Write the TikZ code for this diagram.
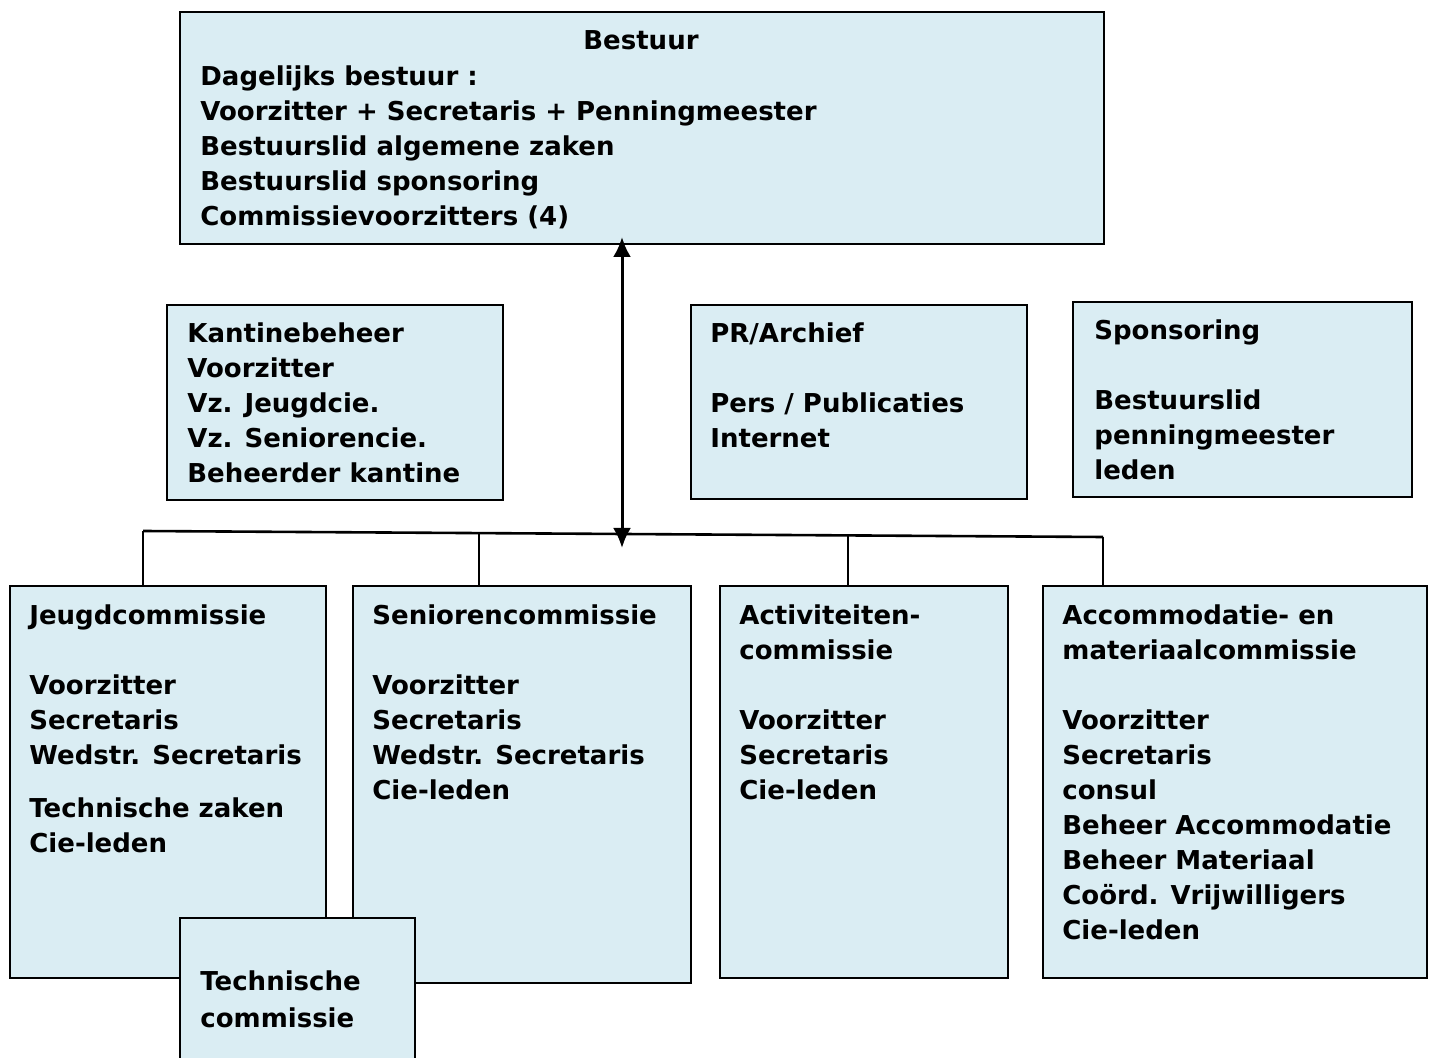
\documentclass[tikz,border=0pt]{standalone}
\usepackage{fontspec}
\setmainfont{DejaVu Sans}
\usepackage{tikz}
\usetikzlibrary{arrows.meta}
\definecolor{boxblue}{RGB}{218,237,243}

\begin{document}
\begin{tikzpicture}[
  x=0.5pt, y=-0.5pt,
  cbox/.style={
    rectangle, draw, fill=boxblue,
    line width=1.1pt, inner sep=0pt, anchor=north west
  },
  txt/.style={
    anchor=north west, align=left, inner sep=0pt,
    font=\fontsize{13}{17.5}\selectfont\bfseries
  }
]
  \useasboundingbox (0,0) rectangle (1431,1058);
  % boxes
  \node[cbox, minimum width=462pt, minimum height=116pt] (bestuur) at (179,11){};
  \node[cbox, minimum width=168pt, minimum height=97.5pt] (kantine) at (166,304){};
  \node[cbox, minimum width=168pt, minimum height=97pt] (pr) at (690,304){};
  \node[cbox, minimum width=169.5pt, minimum height=97.5pt] (spons) at (1072,301){};
  \node[cbox, minimum width=158pt, minimum height=196pt] (jeugd) at (9,585){};
  \node[cbox, minimum width=169pt, minimum height=198.5pt] (senioren) at (352,585){};
  \node[cbox, minimum width=144pt, minimum height=196pt] (activ) at (719,585){};
  \node[cbox, minimum width=192pt, minimum height=196pt] (accom) at (1042,585){};
  % texts (top of strut = baseline - 24.5)
  \node[txt, anchor=base] (bestuur-t) at (641,50){Bestuur};
  \node[txt] (bestuur-l) at (200,60.5){\strut Dagelijks bestuur :\\
    Voorzitter + Secretaris + Penningmeester\\
    Bestuurslid algemene zaken\\
    Bestuurslid sponsoring\\
    Commissievoorzitters (4)};
  \node[txt] (kantine-l) at (187,317.5){\strut Kantinebeheer\\Voorzitter\\
    Vz. Jeugdcie.\\Vz. Seniorencie.\\Beheerder kantine};
  \node[txt] (pr-l) at (710,317.5){\strut PR/Archief\\[17.5pt]
    Pers / Publicaties\\Internet};
  \node[txt] (spons-l) at (1094,314.5){\strut Sponsoring\\[17.5pt]
    Bestuurslid\\penningmeester\\leden};
  \node[txt] (jeugd-l) at (29,599.5){\strut Jeugdcommissie\\[17.5pt]
    Voorzitter\\Secretaris\\Wedstr. Secretaris\\[9pt]
    Technische zaken\\Cie-leden};
  \node[txt] (senioren-l) at (372,599.5){\strut Seniorencommissie\\[17.5pt]
    Voorzitter\\Secretaris\\Wedstr. Secretaris\\Cie-leden};
  \node[txt] (activ-l) at (739,599.5){\strut Activiteiten-\\commissie\\[17.5pt]
    Voorzitter\\Secretaris\\Cie-leden};
  \node[txt] (accom-l) at (1062,599.5){\strut Accommodatie- en\\materiaalcommissie\\[17.5pt]
    Voorzitter\\Secretaris\\consul\\Beheer Accommodatie\\
    Beheer Materiaal\\Coörd. Vrijwilligers\\Cie-leden};
  \node[cbox, minimum width=117.5pt, minimum height=76pt] (techn) at (179,917){};
  \node[txt] (techn-l) at (200,965.5){\strut Technische\\[1pt]commissie};
  % connectors
  \coordinate (bar-w) at (143,531);
  \coordinate (bar-e) at (1103,537);
  \draw[line width=1.3pt] (bar-w) -- (bar-e);
  \foreach \i/\x/\y/\b in {1/143/531/jeugd,2/479/533/senioren,
                           3/848/535.4/activ,4/1103/537/accom} {
    \coordinate (d\i) at (\x,\y);
    \draw[line width=0.9pt] (d\i) -- (d\i |- \b.north);
  }
  \coordinate (arr-top) at (622,237);
  \coordinate (arr-bot) at (622,548);
  \draw[line width=1.5pt, {Latex[length=10pt,width=9pt]}-{Latex[length=10pt,width=9pt]}]
    (arr-top) -- (arr-bot);
\end{tikzpicture}
\end{document}
